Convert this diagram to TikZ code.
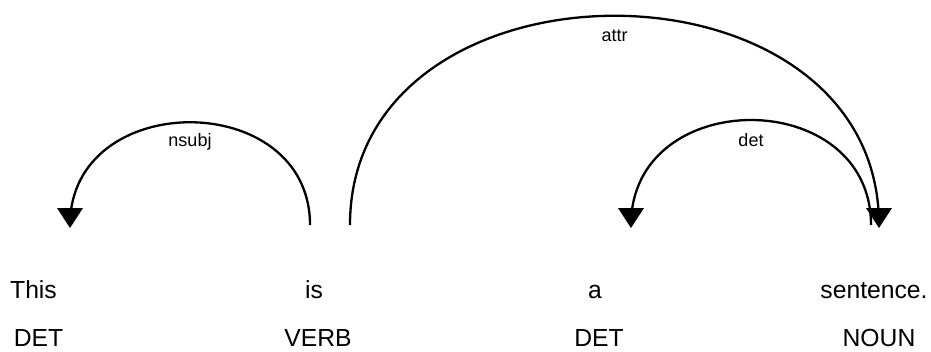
\documentclass[tikz,border=0pt]{standalone}
\usepackage{fontspec}
\setmainfont{Liberation Sans}
\begin{document}
\begin{tikzpicture}[x=1pt,y=-1pt,
  word/.style={anchor=base,inner sep=0pt,font=\fontsize{24.7}{28}\selectfont},
  tag/.style={anchor=base,inner sep=0pt,font=\fontsize{24.7}{28}\selectfont},
  deplabel/.style={anchor=base,inner sep=0pt,font=\fontsize{18}{20}\selectfont},
  arc/.style={line width=2.3pt},
  head/.style={fill=black}]
\useasboundingbox (0,0) rectangle (931,351);

% tokens and their part-of-speech tags
\node[word] (w1) at (33.5,298) {This};
\node[word] (w2) at (314,298) {is};
\node[word] (w3) at (595,298) {a};
\node[word] (w4) at (874,298) {sentence.};
\node[tag] (t1) at (38.5,346.5) {DET};
\node[tag] (t2) at (318,346.5) {VERB};
\node[tag] (t3) at (599,346.5) {DET};
\node[tag] (t4) at (879,346.5) {NOUN};

% arc end points
\coordinate (nsubjA) at (310,225);
\coordinate (nsubjB) at (70,225);
\coordinate (detA) at (871,225);
\coordinate (detB) at (631,225);
\coordinate (attrA) at (350,225);
\coordinate (attrB) at (879,225);

% dependency arcs
\draw[arc] (nsubjA) .. controls (310,88) and (70,88) .. (nsubjB);
\draw[arc] (detA) .. controls (871,85) and (631,85) .. (detB);
\draw[arc] (attrA) .. controls (350,-54) and (879,-54) .. (attrB);

% arrowheads
\fill[head] (70,228) -- ++(-13,-20) -- ++(26,0) -- cycle;
\fill[head] (631,228) -- ++(-13,-20) -- ++(26,0) -- cycle;
\fill[head] (879,228) -- ++(-13,-20) -- ++(26,0) -- cycle;

% arc labels
\node[deplabel] (lnsubj) at (190,146) {nsubj};
\node[deplabel] (ldet) at (751,146) {det};
\node[deplabel] (lattr) at (614.5,41) {attr};
\end{tikzpicture}
\end{document}
